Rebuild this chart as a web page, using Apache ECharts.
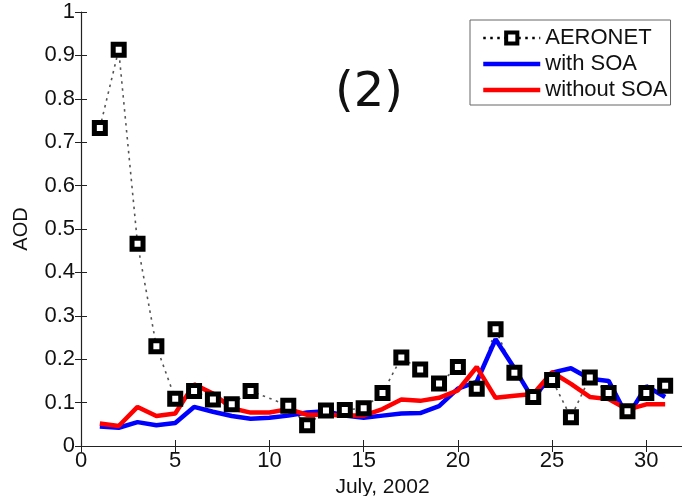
<!DOCTYPE html>
<html lang="en">
<head>
  <meta charset="UTF-8">
  <title>AOD July 2002</title>
  <script src="https://cdn.jsdelivr.net/npm/echarts@6/dist/echarts.min.js"></script>
  <style>
    * { padding: 0; margin: 0; }
    #box { width: 682px; height: 496px; }
  </style>
</head>
<body>
  <div id="box"></div>
  <script>
    // days of July 2002
    var days = [1, 2, 3, 4, 5, 6, 7, 8, 9, 10, 11, 12, 13, 14, 15, 16,
      17, 18, 19, 20, 21, 22, 23, 24, 25, 26, 27, 28, 29, 30, 31]
    // AERONET observations (day 10 missing)
    var aeronet = [0.733, 0.913, 0.466, 0.230, 0.109, 0.127, 0.107, 0.096, 0.127, null, 0.093, 0.048, 0.082, 0.083, 0.087, 0.122,
      0.204, 0.176, 0.144, 0.182, 0.132, 0.269, 0.169, 0.113, 0.152, 0.066, 0.158, 0.122, 0.080, 0.122, 0.139]
    // model with SOA
    var withSOA = [0.045, 0.042, 0.055, 0.048, 0.053, 0.090, 0.079, 0.069, 0.063, 0.065, 0.070, 0.077, 0.080, 0.070, 0.065, 0.070,
      0.075, 0.076, 0.092, 0.132, 0.148, 0.246, 0.179, 0.107, 0.169, 0.179, 0.155, 0.150, 0.067, 0.138, 0.113]
    // model without SOA
    var withoutSOA = [0.052, 0.046, 0.090, 0.069, 0.075, 0.142, 0.121, 0.087, 0.077, 0.077, 0.085, 0.072, 0.072, 0.070, 0.070, 0.085,
      0.107, 0.104, 0.111, 0.128, 0.182, 0.111, 0.116, 0.120, 0.170, 0.143, 0.113, 0.108, 0.084, 0.096, 0.096]

    function pairs(vals) {
      var out = []
      for (var i = 0; i < days.length; i++) {
        out.push([days[i], vals[i]])
      }
      return out
    }

    var font = 'Liberation Sans, Arial, sans-serif'
    var frame = { show: true, lineStyle: { color: '#222', width: 1.2 } }
    var ticks = { show: true, inside: true, length: 6, lineStyle: { color: '#222' } }

    var mCharts = echarts.init(document.getElementById('box'))
    var option = {
      animation: false,
      backgroundColor: '#fff',
      grid: { left: 81, right: -2, top: 12, bottom: 50, outerBoundsMode: 'none' },
      legend: {
        orient: 'vertical',
        left: 470,
        top: 20,
        padding: [7, 3, 4, 11],
        itemWidth: 57,
        itemHeight: 14,
        itemGap: 4,
        borderColor: '#666',
        borderWidth: 1,
        backgroundColor: '#fff',
        textStyle: { fontFamily: font, fontSize: 22, lineHeight: 20, color: '#111' },
        data: [
          { name: 'AERONET', itemStyle: { borderWidth: 4 }, lineStyle: { color: '#000', width: 2.5 } },
          { name: 'with SOA', itemStyle: { opacity: 0 }, lineStyle: { width: 4.5 } },
          { name: 'without SOA', itemStyle: { opacity: 0 }, lineStyle: { width: 4.5 } }
        ]
      },
      graphic: [{
        type: 'text',
        left: 335,
        top: 70,
        style: { text: '(2)', font: '48px "DejaVu Sans"', fill: '#111' }
      }],
      xAxis: [{
        type: 'value',
        min: 0,
        max: 32,
        interval: 5,
        name: 'July, 2002',
        nameLocation: 'middle',
        nameGap: 30,
        nameTextStyle: { fontFamily: font, fontSize: 21, color: '#111', verticalAlign: 'top' },
        axisLine: frame,
        axisTick: ticks,
        splitLine: { show: false },
        axisLabel: { fontFamily: font, fontSize: 22, color: '#111', margin: 4, showMaxLabel: false }
      }, {
        type: 'value',
        position: 'top',
        min: 0,
        max: 32,
        interval: 5,
        axisLine: frame,
        axisTick: ticks,
        splitLine: { show: false },
        axisLabel: { show: false }
      }],
      yAxis: [{
        type: 'value',
        min: 0,
        max: 1,
        interval: 0.1,
        name: 'AOD',
        nameLocation: 'middle',
        nameGap: 50,
        nameTextStyle: { fontFamily: font, fontSize: 20, color: '#111' },
        axisLine: frame,
        axisTick: ticks,
        splitLine: { show: false },
        axisLabel: {
          fontFamily: font, fontSize: 22, color: '#111', margin: 6,
          formatter: function (v) { return v === 0 ? '0' : v === 1 ? '1' : v.toFixed(1) }
        }
      }, {
        // right frame sits just outside the picture, only its ticks show
        type: 'value',
        position: 'right',
        min: 0,
        max: 1,
        interval: 0.1,
        axisLine: { show: false },
        axisTick: ticks,
        splitLine: { show: false },
        axisLabel: { show: false }
      }],
      series: [{
        name: 'AERONET',
        type: 'line',
        data: pairs(aeronet),
        connectNulls: true,
        symbol: 'rect',
        symbolSize: 11,
        itemStyle: { color: '#fff', borderColor: '#000', borderWidth: 5 },
        lineStyle: { color: '#555', width: 1.6, type: [2.5, 4.5] }
      }, {
        name: 'with SOA',
        type: 'line',
        data: pairs(withSOA),
        symbol: 'none',
        itemStyle: { color: '#0000ff' },
        lineStyle: { color: '#0000ff', width: 4.5 }
      }, {
        name: 'without SOA',
        type: 'line',
        data: pairs(withoutSOA),
        symbol: 'none',
        itemStyle: { color: '#ff0000' },
        lineStyle: { color: '#ff0000', width: 4.5 }
      }]
    }
    mCharts.setOption(option)
  </script>
</body>
</html>
